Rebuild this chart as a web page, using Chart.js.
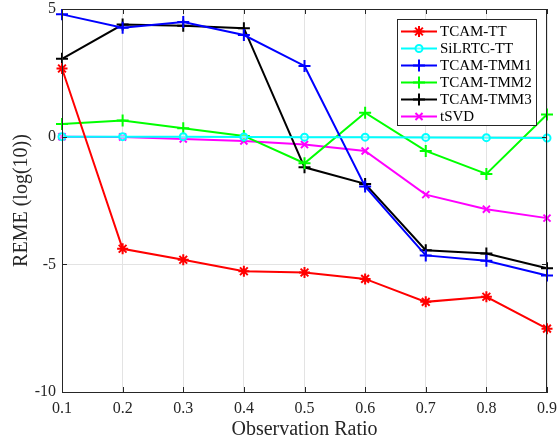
<!DOCTYPE html>
<html>
<head>
<meta charset="utf-8">
<script src="https://cdn.jsdelivr.net/npm/chart.js@4"></script>
<style>
  html, body { margin: 0; padding: 0; background: #fff; }
  #wrap { width: 557px; height: 445px; }
</style>
</head>
<body>
<div id="wrap"><canvas id="chart"></canvas></div>
<script>
// ── data ──
const ratios = ['0.1', '0.2', '0.3', '0.4', '0.5', '0.6', '0.7', '0.8', '0.9'];
const yTicks = [-10, -5, 0, 5];

const tcamTT   = [2.67, -4.39, -4.82, -5.27, -5.32, -5.57, -6.47, -6.27, -7.52];
const silrtcTT = [0.0, 0.0, 0.0, -0.01, -0.02, -0.02, -0.03, -0.04, -0.05];
const tcamTMM1 = [4.79, 4.27, 4.49, 3.98, 2.77, -1.95, -4.65, -4.86, -5.44];
const tcamTMM2 = [0.50, 0.63, 0.33, 0.03, -1.04, 0.94, -0.56, -1.46, 0.87];
const tcamTMM3 = [3.05, 4.39, 4.34, 4.25, -1.20, -1.85, -4.45, -4.58, -5.15];
const tsvd     = [0.0, -0.01, -0.09, -0.17, -0.31, -0.56, -2.27, -2.84, -3.19];

const FONT = 'Liberation Serif, Times New Roman, serif';
const AXIS = '#262626';

function series(label, data, color, style, radius) {
    return {
        label, data,
        borderColor: color,
        backgroundColor: color,
        borderWidth: 2,
        pointStyle: style,
        pointRadius: radius,
        pointBorderColor: color,
        pointBackgroundColor: style === 'circle' ? 'rgba(255,255,255,0.4)' : color,
        pointBorderWidth: 2,
        tension: 0
    };
}

const datasets = [
    series('TCAM-TT', tcamTT, '#ff0000', 'star', 5.5),
    series('SiLRTC-TT', silrtcTT, '#00ffff', 'circle', 3.5),
    series('TCAM-TMM1', tcamTMM1, '#0000ff', 'cross', 6),
    series('TCAM-TMM2', tcamTMM2, '#00ff00', 'cross', 6),
    series('TCAM-TMM3', tcamTMM3, '#000000', 'cross', 6),
    series('tSVD', tsvd, '#ff00ff', 'crossRot', 5)
];

// box + inner tick marks, matlab style
const boxPlugin = {
    id: 'box',
    afterDraw(chart) {
        const { ctx, chartArea: a, scales } = chart;
        ctx.save();
        ctx.strokeStyle = AXIS;
        ctx.lineWidth = 1;
        ctx.strokeRect(a.left + 0.5, a.top + 0.5, a.right - a.left - 1, a.bottom - a.top);
        ctx.beginPath();
        ratios.forEach((r, i) => {
            const x = Math.round(scales.x.getPixelForValue(i)) + 0.5;
            ctx.moveTo(x, a.bottom); ctx.lineTo(x, a.bottom - 5);
            ctx.moveTo(x, a.top); ctx.lineTo(x, a.top + 5);
        });
        yTicks.forEach(v => {
            const y = Math.round(scales.y.getPixelForValue(v)) + 0.5;
            ctx.moveTo(a.left, y); ctx.lineTo(a.left + 5, y);
            ctx.moveTo(a.right, y); ctx.lineTo(a.right - 5, y);
        });
        ctx.stroke();
        ctx.restore();
    }
};

// legend drawn like the matlab one: line sample with marker
const legendPlugin = {
    id: 'matLegend',
    afterDraw(chart) {
        const ctx = chart.ctx;
        const x0 = 397, y0 = 19.5, w = 139, h = 106;
        ctx.save();
        ctx.fillStyle = '#fff';
        ctx.fillRect(x0, y0, w, h);
        ctx.strokeStyle = AXIS;
        ctx.lineWidth = 1;
        ctx.strokeRect(x0 + 0.5, y0, w, h);
        chart.data.datasets.forEach((ds, i) => {
            const y = y0 + 12 + i * 17;
            ctx.strokeStyle = ds.borderColor;
            ctx.lineWidth = 2;
            ctx.beginPath();
            ctx.moveTo(x0 + 4, y);
            ctx.lineTo(x0 + 40, y);
            ctx.stroke();
            ctx.fillStyle = ds.pointBackgroundColor;
            Chart.helpers.drawPoint(ctx, {
                pointStyle: ds.pointStyle, radius: ds.pointRadius,
                rotation: 0, borderWidth: 2
            }, x0 + 22, y);
            ctx.fillStyle = '#000';
            ctx.font = '15px ' + FONT;
            ctx.textBaseline = 'middle';
            ctx.fillText(ds.label, x0 + 43, y + 1);
        });
        ctx.restore();
    }
};

new Chart(document.getElementById('chart'), {
    type: 'line',
    data: { labels: ratios, datasets },
    options: {
        responsive: true,
        maintainAspectRatio: false,
        animation: false,
        layout: { padding: { top: 9, right: 10, left: 0, bottom: 0 } },
        plugins: { legend: { display: false }, tooltip: { enabled: false } },
        scales: {
            x: {
                type: 'category',
                offset: false,
                grid: { color: '#e3e3e3', drawTicks: false },
                border: { color: AXIS },
                ticks: { color: AXIS, font: { family: FONT, size: 16 }, padding: 7, maxRotation: 0 },
                title: { display: true, text: 'Observation Ratio', color: AXIS,
                         font: { family: FONT, size: 20 }, padding: { top: 0, bottom: 3 } },
                afterFit: s => { s.height = 53; s.paddingLeft = 0; s.paddingRight = 0; }
            },
            y: {
                min: -10, max: 5,
                grid: { color: '#e3e3e3', drawTicks: false },
                border: { color: AXIS },
                ticks: { stepSize: 5, color: AXIS, font: { family: FONT, size: 16 }, padding: 6 },
                title: { display: true, text: 'REME (log(10))', color: AXIS,
                         font: { family: FONT, size: 20 }, padding: { top: 10, bottom: 0 } },
                afterFit: s => { s.width = 62; s.paddingTop = 0; s.paddingBottom = 0; }
            }
        }
    },
    plugins: [boxPlugin, legendPlugin]
});
</script>
</body>
</html>
